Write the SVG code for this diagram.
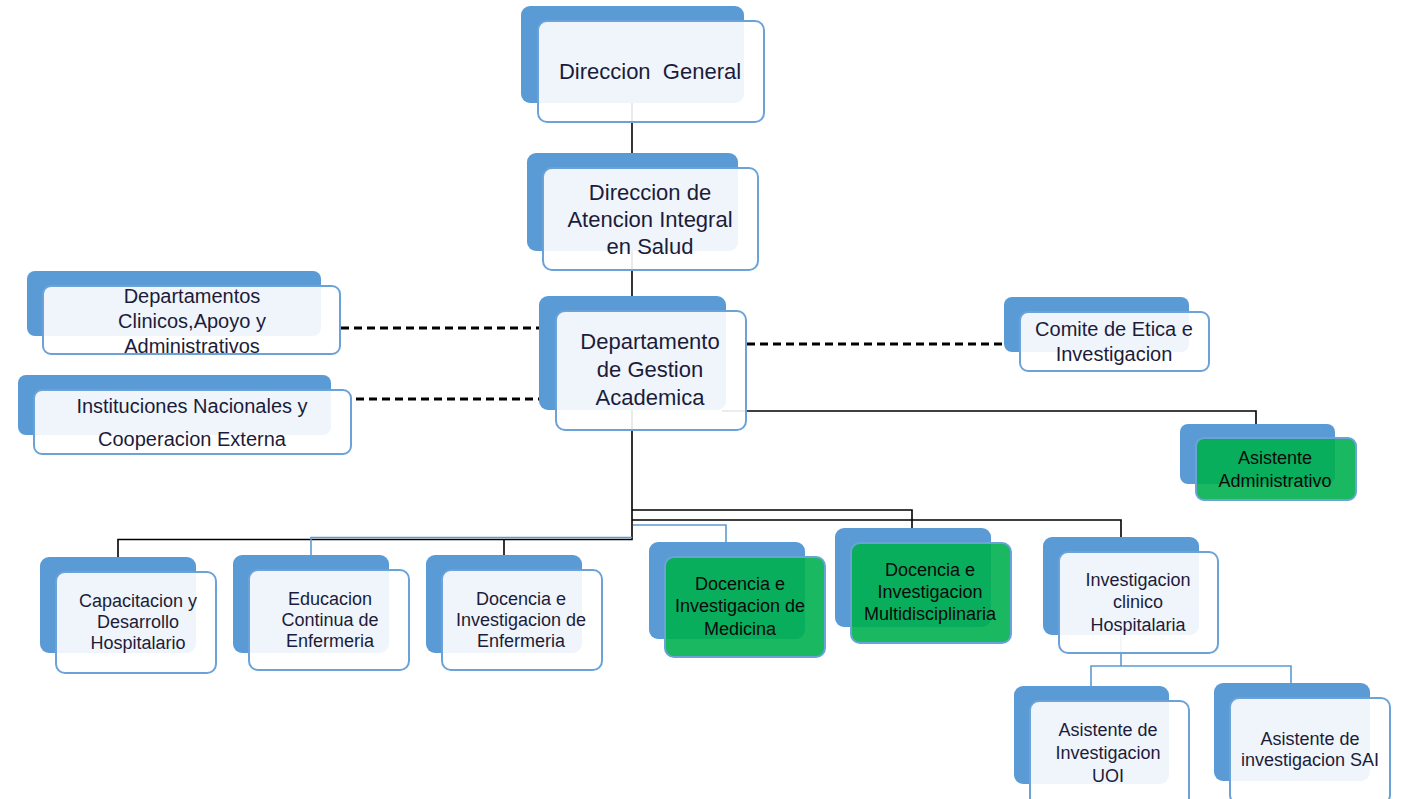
<svg xmlns="http://www.w3.org/2000/svg" width="1406" height="799" viewBox="0 0 1406 799">
<style>
.bk{fill:#5B9BD5}
.fr{fill:#ffffff;fill-opacity:0.9;stroke:#6BA3D9;stroke-width:2}
.gr{fill:#00B050;fill-opacity:0.9;stroke:#6BA3D9;stroke-width:2}
text{font-family:"Liberation Sans",Arial,sans-serif;text-anchor:middle;fill:#1c1c3a}
.g text{fill:#0a0a0a}
.ln{fill:none;stroke:#000;stroke-width:1.6}
.bl{fill:none;stroke:#5B9BD5;stroke-width:1.6}
.ds{fill:none;stroke:#000;stroke-width:3;stroke-dasharray:8 5}
.f22{font-size:22px}.f20{font-size:20px}.f18{font-size:18px}
</style>
<rect width="1406" height="799" fill="#ffffff"/>
<g id="connectors">
<path class="ln" d="M632 103V153"/>
<path class="ln" d="M632 251V296"/>
<path class="ln" d="M632 410V539.5H118V557"/>
<path class="ln" d="M504 539.5V555"/>
<path class="bl" d="M632 537.5H311V555"/>
<path class="ln" d="M632 510H912V528"/>
<path class="ln" d="M632 520H1121V537"/>
<path class="bl" d="M633 525H726V542"/>
<path class="ln" d="M722 411H1256V424"/>
<path class="bl" d="M1121 635V666H1091V686M1121 666H1291V683"/>
<path class="ds" d="M341 328H540"/>
<path class="ds" d="M356 399H540"/>
<path class="ds" d="M747 344H1005"/>
</g>
<g id="n-direccion-general">
<rect class="bk" x="521" y="6" width="223" height="97" rx="9"/>
<rect class="fr" x="538" y="21" width="226" height="101" rx="9"/>
<text class="f22" x="650" y="79" xml:space="preserve">Direccion  General</text>
</g>
<g id="n-direccion-atencion">
<rect class="bk" x="527" y="153" width="211" height="98" rx="9"/>
<rect class="fr" x="543" y="168" width="215" height="102" rx="9"/>
<text class="f22" x="650" y="200">Direccion de</text>
<text class="f22" x="650" y="227">Atencion Integral</text>
<text class="f22" x="650" y="254">en Salud</text>
</g>
<g id="n-departamento-gestion">
<rect class="bk" x="539" y="296" width="187" height="114" rx="9"/>
<rect class="fr" x="556" y="311" width="190" height="119" rx="9"/>
<text class="f22" x="650" y="349">Departamento</text>
<text class="f22" x="650" y="377">de Gestion</text>
<text class="f22" x="650" y="405">Academica</text>
</g>
<g id="n-departamentos-clinicos">
<rect class="bk" x="27" y="271" width="294" height="65" rx="8"/>
<rect class="fr" x="43" y="286" width="297" height="68" rx="8"/>
<text class="f20" x="192" y="303">Departamentos</text>
<text class="f20" x="192" y="328">Clinicos,Apoyo y</text>
<text class="f20" x="192" y="353">Administrativos</text>
</g>
<g id="n-instituciones">
<rect class="bk" x="18" y="375" width="313" height="60" rx="8"/>
<rect class="fr" x="34" y="390" width="317" height="64" rx="8"/>
<text class="f20" x="192" y="413">Instituciones Nacionales y</text>
<text class="f20" x="192" y="446">Cooperacion Externa</text>
</g>
<g id="n-comite">
<rect class="bk" x="1004" y="297" width="185" height="55" rx="8"/>
<rect class="fr" x="1020" y="312" width="189" height="59" rx="8"/>
<text class="f20" x="1114" y="336">Comite de Etica e</text>
<text class="f20" x="1114" y="361">Investigacion</text>
</g>
<g id="n-asistente-administrativo" class="g">
<rect class="bk" x="1180" y="424" width="155" height="60" rx="8"/>
<rect class="gr" x="1196" y="438" width="160" height="62" rx="8"/>
<text class="f18" x="1275" y="464">Asistente</text>
<text class="f18" x="1275" y="487">Administrativo</text>
</g>
<g id="n-capacitacion">
<rect class="bk" x="40" y="557" width="156" height="96" rx="9"/>
<rect class="fr" x="56" y="572" width="160" height="101" rx="9"/>
<text class="f18" x="138" y="607">Capacitacion y</text>
<text class="f18" x="138" y="628">Desarrollo</text>
<text class="f18" x="138" y="649">Hospitalario</text>
</g>
<g id="n-educacion">
<rect class="bk" x="233" y="555" width="156" height="98" rx="9"/>
<rect class="fr" x="249" y="570" width="160" height="100" rx="9"/>
<text class="f18" x="330" y="605">Educacion</text>
<text class="f18" x="330" y="626">Continua de</text>
<text class="f18" x="330" y="647">Enfermeria</text>
</g>
<g id="n-docencia-enfermeria">
<rect class="bk" x="426" y="555" width="156" height="98" rx="9"/>
<rect class="fr" x="442" y="570" width="160" height="100" rx="9"/>
<text class="f18" x="521" y="605">Docencia e</text>
<text class="f18" x="521" y="626">Investigacion de</text>
<text class="f18" x="521" y="647">Enfermeria</text>
</g>
<g id="n-docencia-medicina" class="g">
<rect class="bk" x="649" y="542" width="156" height="97" rx="9"/>
<rect class="gr" x="665" y="557" width="160" height="100" rx="9"/>
<text class="f18" x="740" y="590">Docencia e</text>
<text class="f18" x="740" y="612">Investigacion de</text>
<text class="f18" x="740" y="635">Medicina</text>
</g>
<g id="n-docencia-multi" class="g">
<rect class="bk" x="835" y="528" width="156" height="99" rx="9"/>
<rect class="gr" x="851" y="543" width="160" height="100" rx="9"/>
<text class="f18" x="930" y="576">Docencia e</text>
<text class="f18" x="930" y="598">Investigacion</text>
<text class="f18" x="930" y="620">Multidisciplinaria</text>
</g>
<g id="n-investigacion-clinico">
<rect class="bk" x="1043" y="537" width="156" height="98" rx="9"/>
<rect class="fr" x="1059" y="552" width="159" height="101" rx="9"/>
<text class="f18" x="1138" y="586">Investigacion</text>
<text class="f18" x="1138" y="608">clinico</text>
<text class="f18" x="1138" y="631">Hospitalaria</text>
</g>
<g id="n-asistente-uoi">
<rect class="bk" x="1014" y="686" width="155" height="98" rx="9"/>
<rect class="fr" x="1030" y="701" width="159" height="106" rx="9"/>
<text class="f18" x="1108" y="736">Asistente de</text>
<text class="f18" x="1108" y="759">Investigacion</text>
<text class="f18" x="1108" y="782">UOI</text>
</g>
<g id="n-asistente-sai">
<rect class="bk" x="1214" y="683" width="156" height="98" rx="9"/>
<rect class="fr" x="1230" y="698" width="160" height="106" rx="9"/>
<text class="f18" x="1310" y="745">Asistente de</text>
<text class="f18" x="1310" y="766">investigacion SAI</text>
</g>
</svg>
